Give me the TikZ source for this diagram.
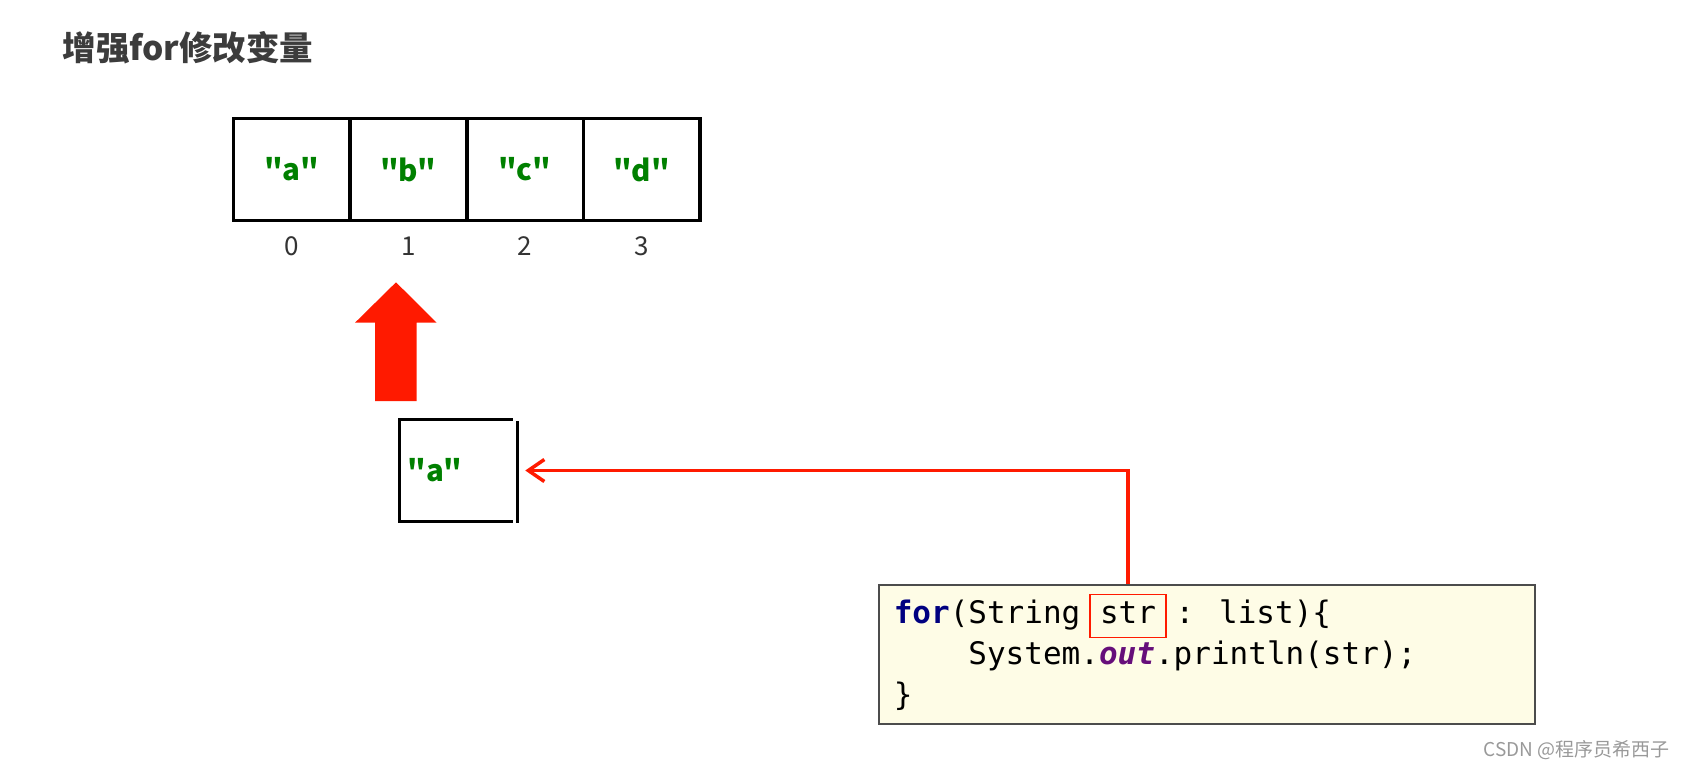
\documentclass[tikz,border=0pt]{standalone}
\usepackage{fontspec}
\setmainfont{Noto Sans CJK SC}
\newfontfamily\labelfont{Noto Sans CJK SC}[Ligatures=TeXOff]
\newfontfamily\codefont{DejaVu Sans Mono}
\usetikzlibrary{arrows.meta}
\usetikzlibrary{positioning}

\definecolor{strgreen}{RGB}{0,128,0}
\definecolor{kwblue}{RGB}{0,0,128}
\definecolor{fieldpurple}{RGB}{102,14,122}
\definecolor{arrowred}{RGB}{255,26,0}
\definecolor{codebg}{RGB}{254,252,230}
\definecolor{titlegray}{RGB}{60,60,60}

\tikzset{
  cell/.style={draw, line width=3.5pt, minimum width=116.7pt, minimum height=102.4pt, inner sep=0pt},
  celltext/.style={font=\labelfont\fontsize{29.5}{32}\selectfont\bfseries, text=strgreen},
  idx/.style={font=\fontsize{26}{28}\selectfont, text=black!80},
  codeline/.style={font=\codefont\fontsize{31}{36}\selectfont, inner sep=0pt, anchor=base west},
  strframe/.style={draw=arrowred, line width=1.5pt, inner xsep=10pt, inner ysep=6pt, text height=23pt, text depth=8pt},
  link/.style={draw=arrowred, line width=3.5pt, ->, shorten >=7.7pt},
}

\begin{document}
\begin{tikzpicture}[x=1pt, y=-1pt, >={Straight Barb[length=16pt,width=22pt]}]
  \useasboundingbox (0,0) rectangle (1687,769);
  \node[anchor=west, font=\fontsize{33.5}{36}\selectfont\bfseries, text=titlegray] (title) at (59,48) {增强for修改变量};

  % the list
  \foreach \val [count=\i from 0] in {a,b,c,d} {
    \node[cell, celltext] (cell\i) at (291.7+116.7*\i,169.5) {"\val"};
    \node[idx, below=10.5pt of cell\i] (idx\i) {\i};
  }

  % write back
  \fill[arrowred] (396,282.3) -- (436.7,322.7) -- (416.7,322.7) -- (416.7,401)
    -- (375,401) -- (375,322.7) -- (355,322.7) -- cycle;

  % loop variable
  \node[minimum width=117.3pt, minimum height=101pt, inner sep=0pt] (cur) at (458.7,470.5) {};
  \draw[line width=3pt] ([xshift=-4.6pt]cur.north east) -- (cur.north west)
    -- (cur.south west) -- ([xshift=-4.6pt]cur.south east);
  \draw[line width=3pt] ([yshift=-1.5pt]cur.north east) -- ([yshift=-1.5pt]cur.south east);
  \node[celltext, anchor=west] (curval) at ([xshift=4pt]cur.west) {"a"};

  % code
  \node[draw=black!70, line width=1.5pt, fill=codebg, minimum width=656pt, minimum height=139pt] (code) at (1207,654.5) {};
  \node[codeline] (line1) at ([xshift=15.3pt, yshift=-39pt]code.north west) {\textcolor{kwblue}{\bfseries for}(String};
  \node[codeline, strframe] (strbox) at ([xshift=8.66pt]line1.base east) {str};
  \node[codeline] (rest1) at ([xshift=8.66pt]strbox.base east) {: list)\{};
  \node[codeline] (line2) at ([xshift=74.64pt, yshift=-41pt]line1.base west) {System.\textcolor{fieldpurple}{\bfseries\itshape out}.println(str);};
  \node[codeline] (line3) at ([yshift=-82pt]line1.base west) {\}};

  \draw[link] (strbox |- code.north) |- (cur.east);

  \node[anchor=east, font=\fontsize{19}{22}\selectfont, text=black!40] (mark) at (1673,750) {CSDN @程序员希西子};
\end{tikzpicture}
\end{document}
